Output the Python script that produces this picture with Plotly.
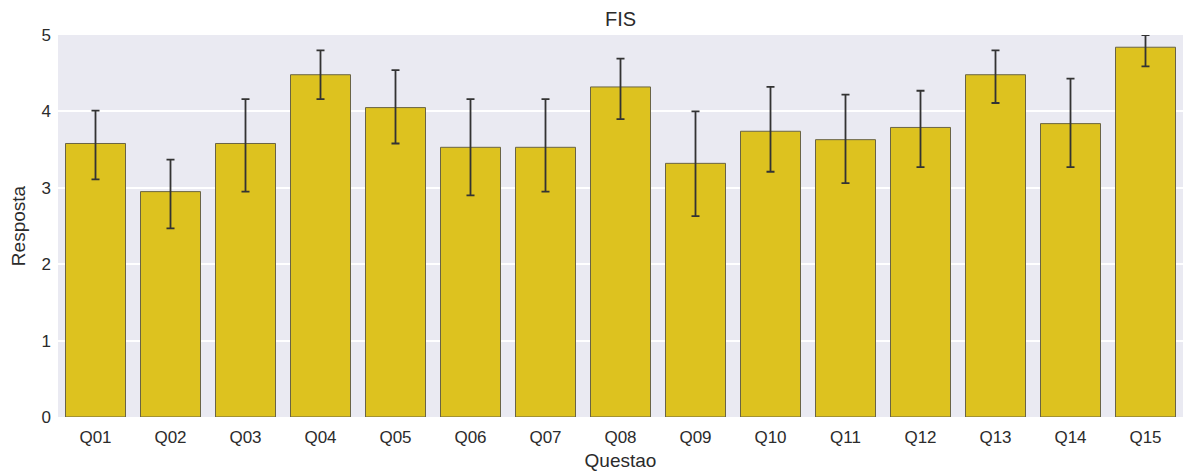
import plotly.graph_objects as go

questions = ["Q01", "Q02", "Q03", "Q04", "Q05", "Q06", "Q07", "Q08",
             "Q09", "Q10", "Q11", "Q12", "Q13", "Q14", "Q15"]
means = [3.58, 2.95, 3.58, 4.48, 4.05, 3.53, 3.53, 4.32,
         3.32, 3.74, 3.63, 3.79, 4.48, 3.84, 4.84]
ci_upper = [4.01, 3.37, 4.16, 4.80, 4.54, 4.16, 4.16, 4.69,
            4.00, 4.32, 4.22, 4.27, 4.80, 4.43, 5.00]
ci_lower = [3.11, 2.47, 2.95, 4.16, 3.58, 2.90, 2.95, 3.90,
            2.63, 3.21, 3.06, 3.27, 4.11, 3.27, 4.59]

err_plus = [u - m for u, m in zip(ci_upper, means)]
err_minus = [m - l for m, l in zip(means, ci_lower)]

font_family = "Liberation Sans, Arial, sans-serif"
txt = "#2b2b2b"

fig = go.Figure()
fig.add_trace(go.Bar(
    x=questions,
    y=means,
    width=0.8,
    marker=dict(color="#DDC21F", line=dict(color="#6a6445", width=1)),
    error_y=dict(type="data", symmetric=False, array=err_plus,
                 arrayminus=err_minus, color="#333333",
                 thickness=1.8, width=4),
    showlegend=False,
    cliponaxis=False,
))

# page body adds an 8px offset; compensate in size and margins
fig.update_layout(
    width=1184, height=466,
    margin=dict(l=50, r=9, t=27, b=57, autoexpand=False),
    paper_bgcolor="white",
    plot_bgcolor="#EAEAF2",
    font=dict(family=font_family, color=txt, size=17),
    title=dict(text="FIS", x=0.5, xref="paper", xanchor="center",
               y=1, yref="container", yanchor="top", pad=dict(t=4),
               font=dict(size=20, color=txt), automargin=False),
    bargap=0.2,
)
fig.update_xaxes(
    range=[-0.5, 14.5], showgrid=False, zeroline=False, showline=False,
    ticks="", tickfont=dict(size=17, color=txt), ticklabelstandoff=8,
    automargin=False,
    title=dict(text="Questao", font=dict(size=19, color=txt), standoff=7),
)
fig.update_yaxes(
    range=[0, 5], dtick=1, showgrid=True, gridcolor="white", gridwidth=1.6,
    zeroline=False, showline=False, ticks="", automargin=False,
    tickfont=dict(size=17, color=txt), ticklabelstandoff=6,
    title=dict(text="Resposta", font=dict(size=19, color=txt), standoff=10),
)

fig.write_html("out.html")
